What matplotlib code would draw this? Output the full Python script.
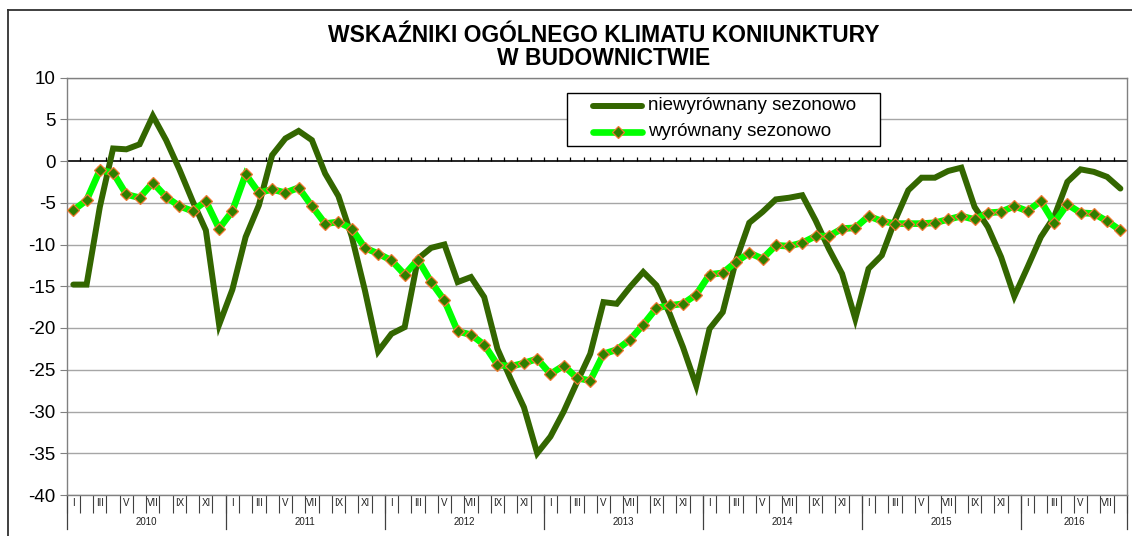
import matplotlib
matplotlib.use("Agg")
import matplotlib.pyplot as plt
from matplotlib.lines import Line2D
from matplotlib.patches import Rectangle
import matplotlib.transforms as mtransforms

plt.rcParams['font.family'] = ['Liberation Sans', 'DejaVu Sans']

# ---- data ----
years = ['2010', '2011', '2012', '2013', '2014', '2015', '2016']
month_labels = ['I', 'II', 'III', 'IV', 'V', 'VI', 'VII', 'VIII', 'IX', 'X', 'XI', 'XII']
months_per_year = [12, 12, 12, 12, 12, 12, 8]

niewyrownany = [
    -14.8, -14.8, -5.5, 1.5, 1.4, 2.0, 5.4, 2.5, -1.0, -4.8, -8.3, -19.6,
    -15.4, -9.1, -5.3, 0.7, 2.7, 3.6, 2.5, -1.5, -4.2, -9.0, -15.5, -22.8,
    -20.7, -19.9, -11.7, -10.4, -10.0, -14.5, -13.9, -16.3, -22.5, -26.1, -29.5, -35.0,
    -33.0, -30.0, -26.5, -23.1, -16.9, -17.1, -15.1, -13.3, -14.9, -18.3, -22.3, -26.9,
    -20.1, -18.1, -11.9, -7.4, -6.1, -4.6, -4.4, -4.1, -7.1, -10.5, -13.5, -18.9,
    -12.9, -11.3, -7.1, -3.5, -2.0, -2.0, -1.2, -0.8, -5.5, -7.9, -11.5, -16.2,
    -12.7, -9.1, -6.7, -2.5, -1.0, -1.3, -1.9, -3.3,
]
wyrownany = [
    -5.9, -4.7, -1.1, -1.4, -4.0, -4.4, -2.6, -4.3, -5.4, -6.0, -4.8, -8.1,
    -6.0, -1.6, -3.8, -3.4, -3.8, -3.2, -5.4, -7.5, -7.3, -8.1, -10.4, -11.1,
    -11.9, -13.6, -11.8, -14.5, -16.7, -20.4, -20.8, -22.0, -24.4, -24.6, -24.2, -23.7,
    -25.5, -24.5, -26.0, -26.3, -23.1, -22.6, -21.4, -19.6, -17.6, -17.3, -17.1, -16.0,
    -13.6, -13.4, -12.1, -11.0, -11.7, -10.1, -10.2, -9.8, -9.0, -9.0, -8.1, -8.0,
    -6.6, -7.2, -7.5, -7.5, -7.5, -7.4, -7.0, -6.6, -7.0, -6.2, -6.1, -5.4,
    -6.0, -4.8, -7.4, -5.2, -6.2, -6.3, -7.2, -8.3,
]
y_ticks = [10, 5, 0, -5, -10, -15, -20, -25, -30, -35, -40]

title_lines = ["WSKAŹNIKI OGÓLNEGO KLIMATU KONIUNKTURY", "W BUDOWNICTWIE"]
series_names = ["niewyrównany sezonowo", "wyrównany sezonowo"]

# ---- styles ----
dark_c = '#336600'
light_c = '#00ff00'
mk_face = '#2f7f00'
mk_edge = '#f07830'
dark_style = dict(color=dark_c, lw=4.3, solid_capstyle='round', solid_joinstyle='miter')
light_style = dict(color=light_c, lw=4.8, solid_joinstyle='miter', marker='D',
                   markersize=6.2, markerfacecolor=mk_face, markeredgecolor=mk_edge,
                   markeredgewidth=0.9)

# ---- figure ----
W, H = 1132, 536
fig = plt.figure(figsize=(W / 100, H / 100), dpi=100)
# pixel coordinates (y measured from top) -> figure
pix = mtransforms.Affine2D().scale(1.0 / W, -1.0 / H).translate(0, 1) + fig.transFigure

ax_l, ax_r, ax_t, ax_b = 66.7, 1127, 77.5, 495
ax = fig.add_axes([ax_l / W, (H - ax_b) / H, (ax_r - ax_l) / W, (ax_b - ax_t) / H])

n = len(niewyrownany)
x = list(range(n))

grid_c = '#a6a6a6'
for yt in y_ticks:
    if yt != 0:
        ax.axhline(yt, color=grid_c, lw=1.0, zorder=0)

ax.plot(x, niewyrownany, zorder=3, **dark_style)
ax.plot(x, wyrownany, zorder=4, **light_style)

ax.set_xlim(-0.5, n - 0.5)
ax.set_ylim(-40, 10)

# zero line with upward month ticks
ax.axhline(0, color='black', lw=1.2, zorder=2)
boundaries = [b - 0.5 for b in range(n + 1)]
ax.vlines(boundaries[1:-1], 0, 0.45, color='black', lw=0.9, zorder=2)

# y axis
ax.set_yticks(y_ticks)
ax.set_yticklabels([str(t) for t in y_ticks], fontsize=13.5)
ax.tick_params(axis='y', direction='out', length=5, color='#808080', pad=3)
for s in ['left', 'right', 'top', 'bottom']:
    ax.spines[s].set_color('#808080')
    ax.spines[s].set_linewidth(1.0)

# x axis: month boundary ticks, odd-month labels, year separators
ax.set_xticks(boundaries)
ax.set_xticklabels([])
ax.tick_params(axis='x', direction='out', length=13, color='#404040', width=0.8)

btr = mtransforms.blended_transform_factory(ax.transData, ax.transAxes)
px = 1.0 / (ax_b - ax_t)
idx = 0
for yr, cnt in zip(years, months_per_year):
    for m in range(cnt):
        if m % 2 == 0:
            ax.text(idx + m, -8 * px, month_labels[m], transform=btr,
                    ha='center', va='center', fontsize=7, color='#202020')
    ax.add_line(Line2D([idx - 0.5, idx - 0.5], [0, -34 * px], transform=btr,
                       color='#404040', lw=0.9, clip_on=False))
    ax.text(idx + cnt / 2 - 0.5, -27 * px, yr, transform=btr,
            ha='center', va='center', fontsize=7, color='#202020')
    idx += cnt
ax.add_line(Line2D([idx - 0.5, idx - 0.5], [0, -34 * px], transform=btr,
                   color='#404040', lw=0.9, clip_on=False))

# legend (drawn in pixel coordinates)
fig.add_artist(Rectangle((567, 93), 313, 53, transform=pix, facecolor='white',
                         edgecolor='black', lw=1.0, zorder=5))
row_y = [106, 132]
styles = [dark_style, light_style]
for name, ry, st in zip(series_names, row_y, styles):
    st2 = dict(st)
    st2['solid_capstyle'] = 'round'
    fig.add_artist(Line2D([593, 642], [ry, ry], transform=pix, zorder=6,
                          markevery=[], **st2))
    if 'marker' in st:
        fig.add_artist(Line2D([617.5], [ry], transform=pix, zorder=7, ls='none',
                              marker=st['marker'], markersize=st['markersize'],
                              markerfacecolor=st['markerfacecolor'],
                              markeredgecolor=st['markeredgecolor'],
                              markeredgewidth=st['markeredgewidth']))
    fig.text(648, ry, name, transform=pix, fontsize=13.5,
             ha='left', va='center', zorder=7)

# title
fig.text(604, 42, title_lines[0], transform=pix, ha='center', va='baseline',
         fontsize=16.5, fontweight='bold')
fig.text(604, 65, title_lines[1], transform=pix, ha='center', va='baseline',
         fontsize=16.5, fontweight='bold')

# outer frame
fig.add_artist(Line2D([8, 8], [10, H], transform=pix, color='#303030', lw=1.3))
fig.add_artist(Line2D([8, W], [10, 10], transform=pix, color='#303030', lw=1.3))

fig.savefig('out.png', dpi=100)
